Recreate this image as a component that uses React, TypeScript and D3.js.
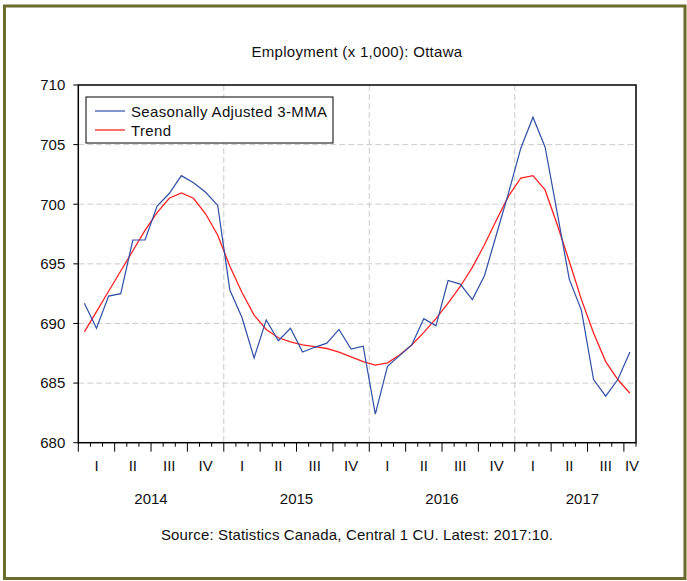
import React from "react";
import * as d3 from "d3";

// ---- Data (monthly, Jan 2014 – Oct 2017) ----
const years = [2014, 2015, 2016, 2017];
const quarterLabels = ["I", "II", "III", "IV"];
const yTicks = [680, 685, 690, 695, 700, 705, 710];

const seasonallyAdjusted = [
  691.7, 689.6, 692.3, 692.5, 697.0, 697.0, 699.85, 700.9, 702.4, 701.8, 701.0, 699.9,
  692.8, 690.5, 687.1, 690.3, 688.55, 689.6, 687.6, 688.0, 688.35, 689.5, 687.85, 688.1,
  682.4, 686.4, 687.3, 688.2, 690.4, 689.8, 693.6, 693.3, 692.0, 694.0, 697.5, 701.0,
  704.7, 707.3, 704.8, 699.3, 693.7, 691.1, 685.3, 683.9, 685.3, 687.6,
];
const trend = [
  689.3, 691.0, 692.7, 694.4, 696.1, 697.8, 699.3, 700.5, 700.95, 700.5, 699.2, 697.4,
  694.8, 692.6, 690.7, 689.5, 688.8, 688.45, 688.2, 688.05, 687.9, 687.6, 687.2, 686.8,
  686.5, 686.7, 687.35, 688.2, 689.25, 690.4, 691.7, 693.1, 694.7, 696.6, 698.7, 700.7,
  702.2, 702.4, 701.2, 698.3, 695.2, 692.0, 689.2, 686.8, 685.3, 684.15,
];

const title = "Employment (x 1,000): Ottawa";
const source = "Source: Statistics Canada, Central 1 CU. Latest: 2017:10.";
const legendNames = ["Seasonally Adjusted 3-MMA", "Trend"];

const BLUE = "#2f4ea6";
const RED = "#ff2222";
const FONT = "'Liberation Sans', Arial, sans-serif";

export default function App() {
  const W = 687;
  const H = 581;
  const left = 78.3;
  const right = 636;
  const top = 85;
  const bottom = 442.7;
  const nMonths = seasonallyAdjusted.length; // 46

  const x = d3.scaleLinear().domain([0, nMonths]).range([left, right]);
  const y = d3.scaleLinear().domain([680, 710]).range([bottom, top]);

  const line = d3
    .line<number>()
    .x((_, i) => x(i + 0.5))
    .y((d) => y(d));

  const monthTicks = d3.range(0, nMonths + 1);
  const gridYears = years.slice(1).map((_, i) => (i + 1) * 12);

  const qLabels: { x: number; t: string }[] = [];
  const yearLabels: { x: number; t: string }[] = [];
  years.forEach((yr, yi) => {
    const pos: number[] = [];
    quarterLabels.forEach((q, qi) => {
      const start = yi * 12 + qi * 3;
      if (start >= nMonths) return;
      let cx = x(start + 1.5);
      cx = Math.min(cx, right - 4);
      pos.push(cx);
      qLabels.push({ x: cx, t: q });
    });
    yearLabels.push({ x: (pos[0] + pos[pos.length - 1]) / 2, t: String(yr) });
  });

  return (
    <svg
      width={W}
      height={H}
      style={{ position: "absolute", left: 0, top: 0, background: "#fff" }}
      fontFamily={FONT}
    >
      <rect x={0} y={0} width={W} height={H} fill="#fff" />
      <rect x={4.5} y={6} width={680.5} height={572.5} fill="none" stroke="#6b6b2d" strokeWidth={3} />

      <text x={357} y={57} textAnchor="middle" fontSize={15} letterSpacing={0.3} fill="#111">
        {title}
      </text>

      {yTicks
        .filter((v) => v > 680 && v < 710)
        .map((v) => (
          <line key={"gy" + v} x1={left} x2={right} y1={y(v)} y2={y(v)} stroke="#cccccc" strokeDasharray="6,3" strokeWidth={1} />
        ))}
      {gridYears.map((m) => (
        <line key={"gx" + m} x1={x(m)} x2={x(m)} y1={top} y2={bottom} stroke="#cccccc" strokeDasharray="6,3" strokeWidth={1} />
      ))}

      <path d={line(trend) || ""} fill="none" stroke={RED} strokeWidth={1.3} />
      <path d={line(seasonallyAdjusted) || ""} fill="none" stroke={BLUE} strokeWidth={1.2} />

      <rect x={left} y={top} width={right - left} height={bottom - top} fill="none" stroke="#000" strokeWidth={1.5} />

      {yTicks.map((v) => (
        <g key={"yt" + v}>
          <line x1={left - 5} x2={left} y1={y(v)} y2={y(v)} stroke="#000" strokeWidth={1} />
          <text x={left - 13} y={y(v)} dy="0.36em" textAnchor="end" fontSize={15} fill="#111">
            {v}
          </text>
        </g>
      ))}

      {monthTicks.map((m) => (
        <line
          key={"xt" + m}
          x1={x(m)}
          x2={x(m)}
          y1={bottom}
          y2={bottom + (m % 3 === 0 ? 9 : 4)}
          stroke="#000"
          strokeWidth={1}
        />
      ))}
      {qLabels.map((q, i) => (
        <text key={"q" + i} x={q.x} y={471} textAnchor="middle" fontSize={15} fill="#111">
          {q.t}
        </text>
      ))}
      {yearLabels.map((q, i) => (
        <text key={"yr" + i} x={q.x} y={504} textAnchor="middle" fontSize={15} fill="#111">
          {q.t}
        </text>
      ))}

      <rect x={86} y={97} width={247} height={46} fill="#fff" stroke="#000" strokeWidth={1} />
      <line x1={95} x2={125} y1={111} y2={111} stroke={BLUE} strokeWidth={1.2} />
      <text x={131} y={117} fontSize={15} letterSpacing={0.35} fill="#111">{legendNames[0]}</text>
      <line x1={95} x2={125} y1={130} y2={130} stroke={RED} strokeWidth={1.3} />
      <text x={131} y={136} fontSize={15} letterSpacing={0.35} fill="#111">{legendNames[1]}</text>

      <text x={357} y={540} textAnchor="middle" fontSize={15} letterSpacing={0.15} fill="#111">
        {source}
      </text>
    </svg>
  );
}
